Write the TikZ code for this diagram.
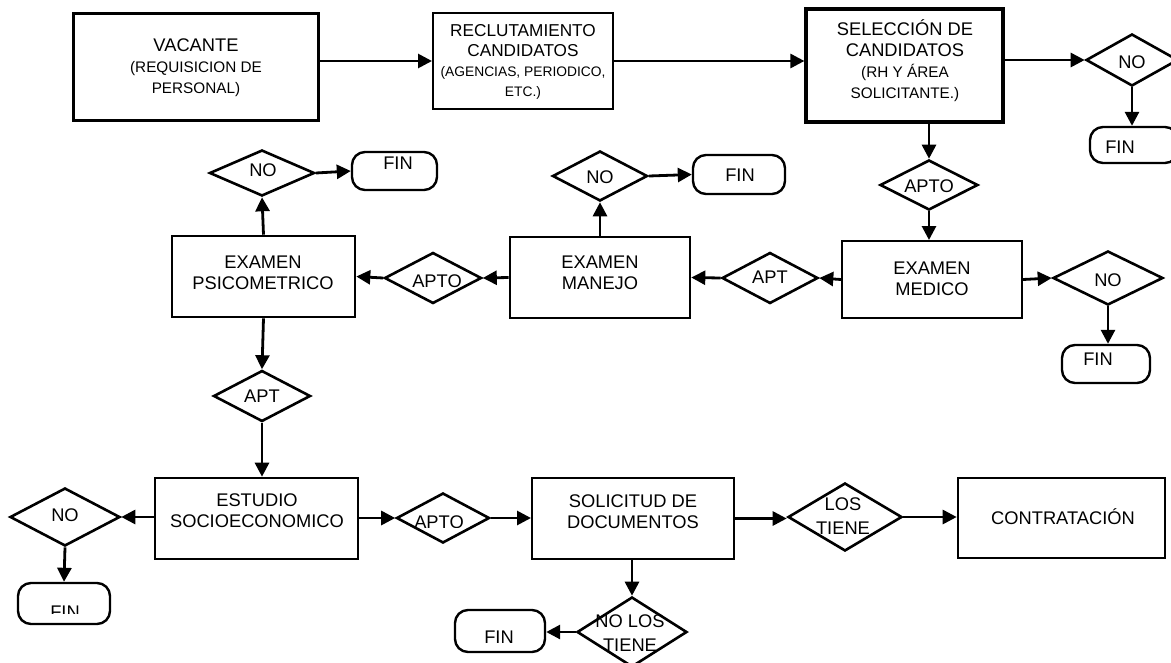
\documentclass[tikz,border=0pt]{standalone}
\usepackage{fontspec}
\setmainfont{Liberation Sans}
\usetikzlibrary{arrows.meta,shapes.geometric}
\newcommand{\bigf}{\fontsize{18.3}{21}\selectfont}
\newcommand{\smf}{\fontsize{15.3}{20}\selectfont}
\newcommand{\recf}{\fontsize{17.2}{20}\selectfont}
\newcommand{\recs}{\fontsize{13.8}{19.5}\selectfont}
\newcommand{\dsf}{\fontsize{18.3}{24}\selectfont}
\begin{document}
\begin{tikzpicture}[x=1pt,y=-1pt,
 box/.style={draw,line width=2.4pt,inner sep=0pt},
 dia/.style={draw,shape=diamond,line width=2.6pt,inner sep=0pt},
 term/.style={draw,rounded corners=13pt,line width=2.4pt,inner sep=0pt},
 txt/.style={inner sep=0pt,align=center,font=\bigf},
 arr/.style={line width=2.8pt,-{Triangle[length=14pt,width=14pt]}},
]
\useasboundingbox[fill=white] (0,0) rectangle (1171,662);

% ---- boxes
\node[box,line width=3pt,minimum width=245pt,minimum height=107pt] (vac) at (195.5,66.5) {};
\node[txt] (tvac) at (196,68) {VACANTE\\\smf (REQUISICION DE\\\smf PERSONAL)};

\node[box,line width=2pt,minimum width=180pt,minimum height=96pt] (rec) at (523,61) {};
\node[txt,font=\recf] (trec) at (523,62) {RECLUTAMIENTO\\CANDIDATOS\\\recs (AGENCIAS, PERIODICO,\\\recs ETC.)};

\node[box,line width=3.2pt,minimum width=197pt,minimum height=113pt] (sel) at (904.5,65.5) {};
\node[txt] (tsel) at (905,61) {SELECCIÓN DE\\CANDIDATOS\\\smf (RH Y ÁREA\\\smf SOLICITANTE.)};

\node[box,line width=2pt,minimum width=180pt,minimum height=77pt] (med) at (932,279.5) {};
\node[txt] (tmed) at (932,279) {EXAMEN\\MEDICO};

\node[box,line width=2.6pt,minimum width=180pt,minimum height=81pt] (man) at (600,277.5) {};
\node[txt] (tman) at (600,273) {EXAMEN\\MANEJO};

\node[box,line width=2.6pt,minimum width=183pt,minimum height=81pt] (psi) at (263.5,276.5) {};
\node[txt] (tpsi) at (263,273) {EXAMEN\\PSICOMETRICO};

\node[box,line width=2.6pt,minimum width=203pt,minimum height=81pt] (est) at (256.5,518.5) {};
\node[txt] (test) at (257,511) {ESTUDIO\\SOCIOECONOMICO};

\node[box,line width=2pt,minimum width=202pt,minimum height=81pt] (sol) at (633,518.5) {};
\node[txt] (tsol) at (633,512) {SOLICITUD DE\\DOCUMENTOS};

\node[box,line width=2.6pt,minimum width=207pt,minimum height=80pt] (con) at (1061.5,518) {};
\node[txt] (tcon) at (1063,517) {CONTRATACIÓN};

% ---- diamonds
\node[dia,minimum width=92pt,minimum height=52pt] (d1) at (1132,60) {};
\node[txt] (td1) at (1132,62) {NO};
\node[dia,minimum width=98pt,minimum height=50pt] (d2) at (929,185) {};
\node[txt] (td2) at (929,186) {APTO};
\node[dia,minimum width=110pt,minimum height=54pt] (d3) at (1108,278) {};
\node[txt] (td3) at (1108,280) {NO};
\node[dia,minimum width=96pt,minimum height=51pt] (d4) at (770,278) {};
\node[txt] (td4) at (770,277) {APT};
\node[dia,minimum width=97pt,minimum height=51pt] (d5) at (433,278) {};
\node[txt] (td5) at (437,281) {APTO};
\node[dia,minimum width=105pt,minimum height=46pt] (d6) at (262,173) {};
\node[txt] (td6) at (263,170) {NO};
\node[dia,minimum width=95pt,minimum height=50pt] (d7) at (600,176) {};
\node[txt] (td7) at (600,177) {NO};
\node[dia,minimum width=97pt,minimum height=51pt] (d8) at (262,396) {};
\node[txt] (td8) at (262,396) {APT};
\node[dia,minimum width=110pt,minimum height=58pt] (d9) at (65,517) {};
\node[txt] (td9) at (65,515) {NO};
\node[dia,minimum width=93pt,minimum height=50pt] (d10) at (443,518) {};
\begin{scope}
\clip (395,490) rectangle (495,527);
\node[txt] (td10) at (439,522.5) {APTO};
\end{scope}
\node[dia,minimum width=114pt,minimum height=68pt] (d11) at (845,517) {};
\node[txt,font=\dsf] (td11) at (843,516) {LOS\\TIENE};
\node[dia,minimum width=110pt,minimum height=70pt] (d12) at (632,632) {};
\node[txt,font=\dsf] (td12) at (630,633.5) {NO LOS\\TIENE};

% ---- terminals
\node[term,minimum width=88pt,minimum height=36pt] (f1) at (1134,145) {};
\node[txt] (tf1) at (1120,147) {FIN};
\node[term,minimum width=88pt,minimum height=38pt] (f2) at (1106,364) {};
\node[txt] (tf2) at (1098,359) {FIN};
\node[term,minimum width=85pt,minimum height=38pt] (f3) at (394.5,171) {};
\node[txt] (tf3) at (398,163) {FIN};
\node[term,minimum width=92pt,minimum height=39pt] (f4) at (739,174.5) {};
\node[txt] (tf4) at (740,175) {FIN};
\node[term,minimum width=92pt,minimum height=41pt] (f5) at (64,603.5) {};
\begin{scope}
\clip (20,595) rectangle (110,613);
\node[txt] (tf5) at (65,612.5) {FIN};
\end{scope}
\node[term,minimum width=90pt,minimum height=42pt] (f6) at (500,631) {};
\node[txt] (tf6) at (499,637) {FIN};

% ---- connectors
\draw[arr] (vac.east |- rec.west) -- (rec.west);
\draw[arr] (rec.east) -- (rec.east -| sel.west);
\draw[arr] (sel.east |- d1.west) -- (d1.west);
\draw[arr] (d1.south) -- (d1.south |- f1.north);
\draw[arr] (d2.north |- sel.south) -- (d2.north);
\draw[arr] (d2.south) -- (d2.south |- med.north);
\draw[arr] (med.east) -- (d3.west);
\draw[arr] (d3.south) -- (d3.south |- f2.north);
\draw[arr] (med.west) -- (d4.east);
\draw[arr] (d4.west) -- (man.east);
\draw[arr] (man.north) -- (d7.south);
\draw[arr] (d7.east) -- (f4.west);
\draw[arr] (man.west) -- (d5.east);
\draw[arr] (d5.west) -- (psi.east);
\draw[arr] (psi.north) -- (d6.south);
\draw[arr] (d6.east) -- (f3.west);
\draw[arr] (psi.south) -- (d8.north);
\draw[arr] (d8.south) -- (d8.south |- est.north);
\draw[arr] (est.west |- d9.east) -- (d9.east);
\draw[arr] (d9.south) -- (f5.north);
\draw[arr] (est.east |- d10.west) -- (d10.west);
\draw[arr] (d10.east) -- (d10.east -| sol.west);
\draw[arr] (sol.east) -- (sol.east -| d11.west);
\draw[arr] (d11.east) -- (d11.east -| con.west);
\draw[arr] (d12.north |- sol.south) -- (d12.north);
\draw[arr] (d12.west) -- (d12.west -| f6.east);
\end{tikzpicture}
\end{document}
